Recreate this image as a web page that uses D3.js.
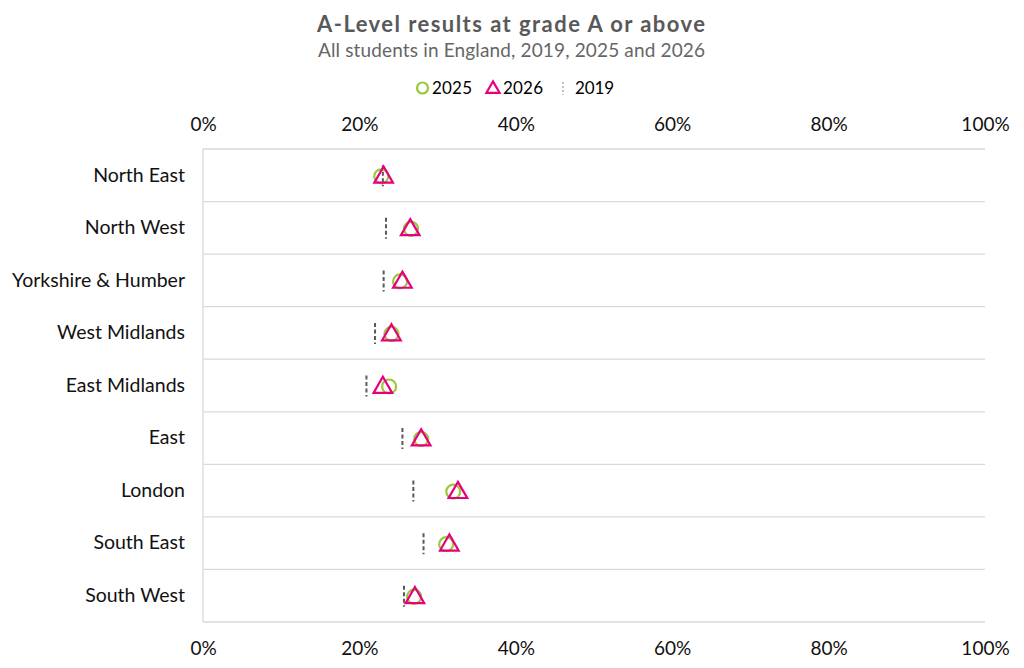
<!DOCTYPE html>
<html><head><meta charset="utf-8">
<script src="https://cdn.jsdelivr.net/npm/d3@7"></script>
<style>body{margin:0;background:#fff}svg{display:block;font-family:Lato,"Noto Sans",sans-serif}</style>
</head><body><svg id="c" width="1024" height="668"></svg>
<script>
const regions = ["North East","North West","Yorkshire & Humber","West Midlands","East Midlands","East","London","South East","South West"];
const values2019 = [23.0,23.4,23.1,22.0,20.9,25.5,26.9,28.2,25.7];
const values2025 = [22.8,26.6,25.2,24.1,23.8,27.9,32.0,31.1,27.0];
const values2026 = [23.1,26.5,25.5,24.1,23.0,27.9,32.6,31.5,27.1];
const xTicks = [0,20,40,60,80,100];

const svg = d3.select("#c");
const m = {left:203, right:985, top:149, bottom:622};
const x = d3.scaleLinear().domain([0,100]).range([m.left, m.right]);
const y = d3.scaleBand().domain(regions).range([m.top, m.bottom]);
const green = "#9bc93a", pink = "#e6007e", grey = "#595959";
const FF = "Lato,'Noto Sans',sans-serif";

svg.append("text").attr("x",317).attr("y",32)
  .attr("font-size",22).attr("font-weight","bold").attr("fill","#595959")
  .attr("textLength",388).attr("lengthAdjust","spacing").text("A-Level results at grade A or above");
svg.append("text").attr("x",318).attr("y",57)
  .attr("font-size",19).attr("fill","#666")
  .attr("textLength",387).attr("lengthAdjust","spacing").text("All students in England, 2019, 2025 and 2026");

// legend
const lg = svg.append("g").attr("font-size",17).attr("fill","#000");
lg.append("circle").attr("cx",422.5).attr("cy",88).attr("r",5.5).attr("fill","none").attr("stroke",green).attr("stroke-width",2.2);
lg.append("text").attr("x",432).attr("y",94).attr("textLength",40).text("2025");
lg.append("path").attr("d",d3.symbol(d3.symbolTriangle,75)()).attr("transform","translate(493,89)")
  .attr("fill","none").attr("stroke",pink).attr("stroke-width",2.2);
lg.append("text").attr("x",503).attr("y",94).attr("textLength",40).text("2026");
lg.append("line").attr("x1",563).attr("x2",563).attr("y1",82).attr("y2",95).attr("stroke","#999").attr("stroke-width",1.2).attr("stroke-dasharray","2,2");
lg.append("text").attr("x",575).attr("y",94).attr("textLength",39).text("2019");

// grid
const g = svg.append("g");
const bounds = regions.map(r=>y(r)).concat([m.bottom]);
g.selectAll("line.h").data(bounds).join("line").attr("x1",m.left).attr("x2",m.right)
  .attr("y1",d=>d).attr("y2",d=>d).attr("stroke","#d9d9d9").attr("stroke-width",1.3);
g.append("line").attr("x1",m.left).attr("x2",m.left).attr("y1",m.top).attr("y2",m.bottom).attr("stroke","#d9d9d9").attr("stroke-width",1.3);

// axes
const fmt = d=>d+"%";
const axTop = svg.append("g").attr("transform",`translate(0,131)`)
  .call(d3.axisTop(x).tickValues(xTicks).tickFormat(fmt).tickSize(0).tickPadding(0));
const axBot = svg.append("g").attr("transform",`translate(0,655)`)
  .call(d3.axisBottom(x).tickValues(xTicks).tickFormat(fmt).tickSize(0).tickPadding(0));
[axTop,axBot].forEach(a=>{a.select(".domain").remove();a.selectAll("text").attr("font-size",19).attr("fill","#111").attr("font-family",FF).attr("dy","0").attr("y",0);});

const yl = svg.append("g").attr("transform",`translate(185,0)`)
  .call(d3.axisLeft(y).tickSize(0).tickPadding(0));
yl.select(".domain").remove();
yl.selectAll("text").attr("font-size",19.5).attr("fill","#111").attr("font-family",FF);

const cy = r => y(r)+y.bandwidth()/2;
// 2019 dashes
svg.append("g").selectAll("line").data(regions).join("line")
  .attr("x1",(d,i)=>x(values2019[i])).attr("x2",(d,i)=>x(values2019[i]))
  .attr("y1",d=>cy(d)-10).attr("y2",d=>cy(d)+11)
  .attr("stroke",grey).attr("stroke-width",2).attr("stroke-dasharray","4,2.5");
// 2025 circles
svg.append("g").selectAll("circle").data(regions).join("circle")
  .attr("cx",(d,i)=>x(values2025[i])).attr("cy",d=>cy(d)+1).attr("r",7)
  .attr("fill","none").attr("stroke",green).attr("stroke-width",2.2);
// 2026 triangles
const tri = d3.symbol(d3.symbolTriangle,150)();
svg.append("g").selectAll("path").data(regions).join("path")
  .attr("d",tri).attr("transform",(d,i)=>`translate(${x(values2026[i])},${cy(d)+2})`)
  .attr("fill","none").attr("stroke",pink).attr("stroke-width",2.2);
</script></body></html>
